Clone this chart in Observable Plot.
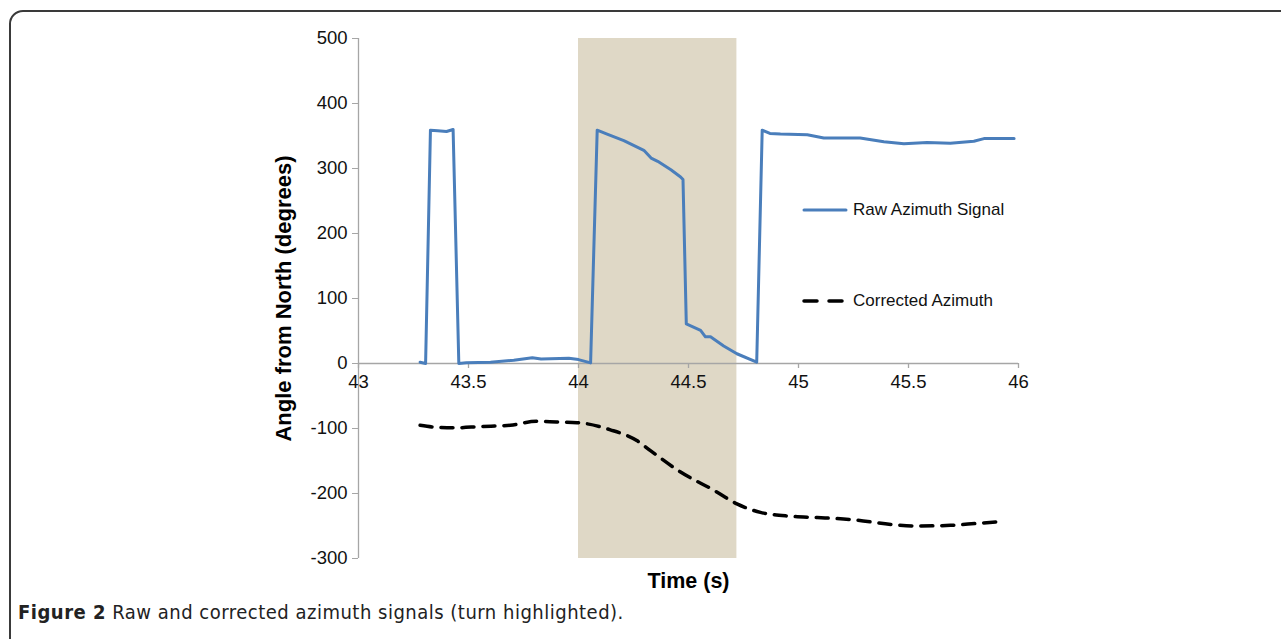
<!DOCTYPE html>
<html>
<head>
<meta charset="utf-8">
<script src="https://cdn.jsdelivr.net/npm/d3@7"></script>
<script src="https://cdn.jsdelivr.net/npm/@observablehq/plot@0.6"></script>
<style>
  html, body { margin: 0; padding: 0; background: #fff; }
  #wrap { position: relative; width: 1281px; height: 639px; overflow: hidden; background: #fff; }
  #frame { position: absolute; left: 9px; top: 10px; width: 1320px; height: 700px;
           border: 2px solid #3a3a3a; border-top-left-radius: 14px; box-sizing: border-box; }
  #chart { position: absolute; left: 0; top: 0; }
  #legend { position: absolute; left: 0; top: 0; font-family: "Liberation Sans", Arial, sans-serif; font-size: 17px; color: #111; }
  .leg { position: absolute; display: flex; align-items: center; white-space: nowrap; }
  .leg svg { margin-right: 5px; }
  #caption { position: absolute; left: 18px; top: 600px; font-family: "Liberation Sans Narrow", "DejaVu Sans Condensed", "Liberation Sans", sans-serif;
             font-size: 20px; letter-spacing: 0.5px; color: #222; white-space: nowrap; }
  #caption b { font-weight: bold; }
</style>
</head>
<body>
<div id="wrap">
  <div id="frame"></div>
  <div id="chart"></div>
  <div id="legend"></div>
  <div id="caption"><b>Figure 2</b> Raw and corrected azimuth signals (turn highlighted).</div>
</div>
<script>
// ---- data ----
const xDomain = [43, 46];
const yDomain = [-300, 500];
const xTicks = [43, 43.5, 44, 44.5, 45, 45.5, 46];
const yTicks = [-300, -200, -100, 0, 100, 200, 300, 400, 500];
const turnBand = [{start: 44.0, end: 44.72}];

const rawTime = [43.28, 43.305, 43.327, 43.36, 43.40, 43.43, 43.456, 43.49, 43.6, 43.706, 43.79, 43.83, 43.956, 44.0, 44.055,
  44.085, 44.13, 44.206, 44.297, 44.33, 44.36, 44.42, 44.464, 44.475, 44.49, 44.555, 44.577, 44.60, 44.66, 44.72, 44.81,
  44.835, 44.87, 44.918, 45.04, 45.115, 45.28, 45.388, 45.479, 45.585, 45.69, 45.797, 45.843, 45.98];
const rawAzimuth = [2, 0, 359, 358, 357, 360, 0, 1, 2, 5, 9, 7, 8, 6, 1,
  359, 353, 343, 328, 316, 311, 298, 287, 283, 61, 51, 41, 41, 27, 15, 2,
  359, 354, 353, 352, 347, 347, 341, 338, 340, 339, 342, 346, 346];

const corTime = [43.28, 43.35, 43.433, 43.555, 43.69, 43.81, 43.9, 43.994, 44.145, 44.267, 44.327, 44.464, 44.615, 44.72,
  44.827, 44.964, 45.085, 45.236, 45.433, 45.54, 45.69, 45.81, 45.93];
const corAzimuth = [-95, -98, -99, -97, -95, -89, -90, -91, -102, -119, -134, -167, -195, -216,
  -229, -235, -237, -240, -248, -250, -249, -246, -243];

const seriesNames = ["Raw Azimuth Signal", "Corrected Azimuth"];

// ---- build tables ----
const raw = rawTime.map((t, i) => ({t, v: rawAzimuth[i]}));
const cor = corTime.map((t, i) => ({t, v: corAzimuth[i]}));

const BLUE = "#4a7ebb";
const AXIS = "#a6a6a6";
const FONT = "'Liberation Sans', Arial, Helvetica, sans-serif";

const chart = Plot.plot({
  width: 1281,
  height: 595,
  marginLeft: 358,
  marginRight: 263,
  marginTop: 38,
  marginBottom: 37,
  style: {fontFamily: FONT, background: "transparent", overflow: "visible"},
  x: {domain: xDomain, axis: null},
  y: {domain: yDomain},
  marks: [
    Plot.rect(turnBand, {x1: "start", x2: "end", y1: yDomain[0], y2: yDomain[1], fill: "#dfd8c6"}),
    Plot.ruleX([xDomain[0]], {y1: yDomain[0], y2: yDomain[1], stroke: AXIS, strokeWidth: 1.3}),
    Plot.axisY(yTicks, {anchor: "left", tickSize: 6, tickPadding: 5, stroke: AXIS, fill: "#111",
      fontSize: 18.5, label: null, tickFormat: d => String(d)}),
    Plot.ruleY([0], {x1: xDomain[0], x2: xDomain[1], stroke: AXIS, strokeWidth: 1.3}),
    Plot.ruleX(xTicks, {x: d => d, y1: 0, y2: 0, insetBottom: -5, stroke: AXIS, strokeWidth: 1.3}),
    Plot.text(xTicks, {x: d => d, y: 0, dy: 19, text: d => String(d), fontSize: 18.5, fill: "#111"}),
    Plot.line(raw, {x: "t", y: "v", stroke: BLUE, strokeWidth: 3, strokeLinejoin: "round", strokeLinecap: "round"}),
    Plot.line(cor, {x: "t", y: "v", stroke: "#000", strokeWidth: 3.5, curve: "monotone-x",
      strokeDasharray: "12,9", strokeLinecap: "round"}),
    Plot.text(["Angle from North (degrees)"], {frameAnchor: "left", textAnchor: "middle", dx: -75, rotate: -90,
      fontSize: 22, fontWeight: "bold", fill: "#000"}),
    Plot.text(["Time (s)"], {frameAnchor: "bottom", dy: 29, fontSize: 21.5, fontWeight: "bold", fill: "#000"})
  ]
});
document.getElementById("chart").appendChild(chart);

// ---- legend ----
const legend = document.getElementById("legend");
const legItems = [
  {name: seriesNames[0], top: 198, stroke: BLUE, dash: null, width: 3},
  {name: seriesNames[1], top: 289, stroke: "#000", dash: "13,12", width: 3.5}
];
legItems.forEach(it => {
  const div = document.createElement("div");
  div.className = "leg";
  div.style.left = "802px";
  div.style.top = it.top + "px";
  div.style.height = "24px";
  div.innerHTML = `<svg width="46" height="10"><line x1="2" y1="5" x2="44" y2="5" stroke="${it.stroke}" stroke-width="${it.width}" stroke-linecap="round" ${it.dash ? `stroke-dasharray="${it.dash}"` : ""}/></svg><span>${it.name}</span>`;
  legend.appendChild(div);
});
</script>
</body>
</html>
